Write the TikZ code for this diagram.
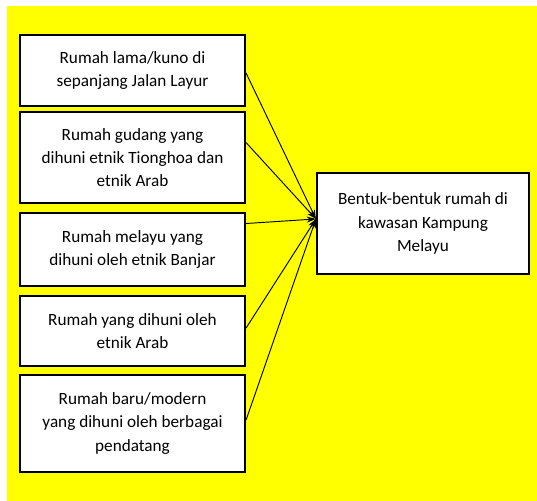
\documentclass[tikz,border=0pt]{standalone}
\usepackage{fontspec}
\setmainfont{Carlito}
\usetikzlibrary{arrows.meta,calc}
\definecolor{bgyellow}{RGB}{255,255,0}
\begin{document}
\begin{tikzpicture}[x=0.75pt,y=-0.75pt,
  box/.style={draw=black,line width=1.6pt,fill=white,align=center,inner sep=0pt,
    font=\fontsize{12.9}{17.4}\selectfont},
  lbox/.style={box,minimum width=225*0.75pt},
  conn/.style={line width=0.7pt,-{Stealth[length=7pt,width=4.5pt]}}]
\useasboundingbox (0,0) rectangle (537,501);
\fill[white] (0,0) rectangle (537,501);
\fill[bgyellow] (7,6) rectangle (537,501);
\node[lbox,minimum height=71*0.75pt] (b1) at (132.5,70.5) {Rumah lama/kuno di\\sepanjang Jalan Layur};
\node[lbox,minimum height=91*0.75pt] (b2) at (132.5,157.5) {Rumah gudang yang\\dihuni etnik Tionghoa dan\\etnik Arab};
\node[lbox,minimum height=73*0.75pt] (b3) at (132.5,249.5) {Rumah melayu yang\\dihuni oleh etnik Banjar};
\node[lbox,minimum height=70*0.75pt] (b4) at (132.5,331) {Rumah yang dihuni oleh\\etnik Arab};
\node[lbox,minimum height=97*0.75pt] (b5) at (132.5,423.5) {Rumah baru/modern\\yang dihuni oleh berbagai\\pendatang};
\node[box,minimum width=212*0.75pt,minimum height=101*0.75pt] (r) at (423,223.5) {Bentuk-bentuk rumah di\\kawasan Kampung\\Melayu};
\coordinate (t) at ([yshift=3.4pt]r.west);
\draw[conn] ([yshift=-1.9pt]b1.east) -- (t);
\draw[conn] ([yshift=11.2pt]b2.east) -- (t);
\draw[conn] ([yshift=19.5pt]b3.east) -- (t);
\draw[conn] ([yshift=2.2pt]b4.east) -- (t);
\draw[conn] ([yshift=2.6pt]b5.east) -- (t);
\end{tikzpicture}
\end{document}
